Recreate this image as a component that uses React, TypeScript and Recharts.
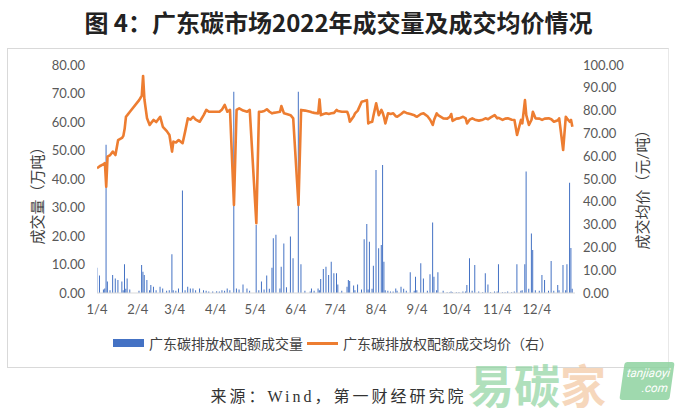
import React from "react";
import { ComposedChart, Bar, Line, XAxis, YAxis } from "recharts";

// trading dates (one line per month)
const dates: string[] = [
  "1/4","1/6","1/9","1/10","1/11","1/12","1/14","1/16","1/18","1/20","1/23","1/24","1/25","1/26","1/27","1/29",
  "2/5","2/7","2/8","2/9","2/11","2/13","2/14","2/16","2/18","2/21","2/23","2/26","2/28",
  "3/2","3/3","3/5","3/7","3/10","3/12","3/14","3/16","3/18","3/20","3/23","3/26","3/28","3/30",
  "4/2","4/5","4/7","4/9","4/11","4/13","4/15","4/18","4/20","4/22","4/25","4/28","4/30",
  "5/5","5/7","5/9","5/11","5/13","5/15","5/17","5/18","5/20","5/23","5/24","5/26","5/28","5/31",
  "6/2","6/6","6/8","6/11","6/15","6/16","6/18","6/21","6/22","6/23","6/25","6/27","6/29",
  "7/1","7/3","7/5","7/6","7/9","7/13","7/14","7/15","7/18","7/19","7/21","7/24","7/26","7/28","7/29","7/30",
  "8/1","8/2","8/4","8/6","8/8","8/9","8/10","8/11","8/13","8/15","8/17","8/19","8/20","8/23","8/25","8/27","8/30",
  "9/2","9/3","9/4","9/7","9/9","9/12","9/14","9/16","9/17","9/19","9/20","9/24","9/27","9/29","9/30",
  "10/1","10/4","10/6","10/9","10/11","10/12","10/14","10/16","10/18","10/21","10/24","10/26","10/28","10/30",
  "11/2","11/4","11/5","11/8","11/10","11/12","11/15","11/17","11/19","11/22","11/23","11/25","11/26","11/28","11/30",
  "12/1","12/3","12/6","12/8","12/10","12/13","12/15","12/17","12/20","12/21","12/24","12/26","12/27","12/29","12/30","12/31",
];

// 成交量（万吨）
const volumes: number[] = [
  8.9,6.1,1.2,1.6,52,4,1.0,6.3,5.1,4.6,4,1.0,10.1,1.5,5.1,1.2,
  0.8,9.8,7.5,6.3,4.6,1.0,2.8,2.2,1.0,2.2,1.6,0.8,1.0,
  13.6,1.0,0.8,1.6,36,1.0,2.2,1.6,1.6,1.0,1.6,1.0,0.8,0.5,
  0.5,0.6,0.5,1.0,0.8,1.6,1.0,70.6,1.6,1.2,3,1.6,0.8,
  23.9,1.0,4,1.2,6.1,1.5,8.9,19.2,20.4,1.6,9.2,17.4,2,19.8,
  12.2,70.6,10.1,0.8,0.5,1.6,0.8,1.6,1.0,4.9,8.4,9.2,6.3,
  11,6.9,6.9,3,0.8,2.2,4.6,4.2,2.6,1.0,3,1.2,18.9,24.2,1.2,18,
  1.5,9.6,43.2,15.7,16.8,44.9,11,1.0,0.8,0.5,0.5,1.6,0.8,2.2,1.5,0.8,7.3,
  0.8,5.7,1.0,10.4,5.1,0.8,6.6,24.7,5.7,1.0,7.3,0.8,0.3,0.3,0.5,
  0.3,0.3,0.3,0.5,0.5,2.8,12.2,0.8,9.8,0.5,0.3,6.9,3,0.3,
  0.5,0.5,10.1,0.3,0.3,0.5,0.3,0.5,10.1,0.8,1.0,10.1,42.6,1.5,20.9,
  15.1,1.0,0.8,6.3,4.6,0.8,11.2,0.8,2.8,1.0,9.8,1.0,10.1,38.7,15.8,1.5,
];

// 成交均价（元/吨）
const prices: number[] = [
  54.7,55.6,56.5,57.0,46.6,59.8,60.5,62,60.5,67,68,68.9,72,77.3,78,79.5,
  84.6,86.5,95.2,85,76.6,73.7,74.5,75.9,75,77.3,72.9,71,69.3,
  62,66.4,66,67.1,65.7,71,76.6,76,77.3,76,75.1,78,80.3,79.5,
  79.5,79.5,79.5,80.5,82.5,79.5,80.3,38.6,80.3,81,80,79.5,80.3,
  30.6,79.5,79.5,79.8,80.6,79.5,78.8,79,79.2,79.5,82,78.8,78.5,78,
  76.6,38.6,80.3,80,79.5,79.3,79,78.8,84.9,78,78.5,78.8,78.5,
  78.8,79,80.3,79.8,79.5,79.5,78,75.1,77.5,78.8,80,83.9,84.2,84.6,74.4,74.8,
  75.1,78,83.2,78,80.3,79,77,74.4,78.8,78.5,78.8,77.5,77.3,78.5,79.5,79,78.5,
  78,77.5,77.3,78.5,78.8,77.5,76,73.7,76,78.8,78,76.6,76.5,77.3,78.5,
  75.5,76.5,76.6,77.3,76.6,74.4,76,76.6,76,75.6,76,76.6,76.2,77,
  78,76.6,76.8,75.9,76.5,76.6,76,75.9,69.3,75.9,74.4,84.6,78,73.7,76,
  79.5,76.6,76.5,75.9,76.5,76.6,76.2,75.1,75.8,76.6,62.7,77.3,76.5,75.1,75.9,72.9,
];

const tickLabels: string[] = ["1/4","2/4","3/4","4/4","5/4","6/4","7/4","8/4","9/4","10/4","11/4","12/4"];
const leftTicks: number[] = [0,10,20,30,40,50,60,70,80];
const rightTicks: number[] = [0,10,20,30,40,50,60,70,80,90,100];

const monthStart = [0,31,59,90,120,151,181,212,243,273,304,334];
const dayOfYear = (s: string) => {
  const [m, d] = s.split("/").map(Number);
  return monthStart[m - 1] + d - 1;
};

const rows = dates.map((d, i) => ({
  day: dayOfYear(d),
  date: d,
  volume: volumes[i],
  price: prices[i],
}));
const tickDays = tickLabels.map(dayOfYear);
const labelByDay: Record<number, string> = {};
tickLabels.forEach((l) => (labelByDay[dayOfYear(l)] = l));

const FONT = "Lato, 'Noto Sans CJK SC', sans-serif";
const tickStyle = { fontSize: 13, fill: "#595959", fontFamily: FONT };

export default function App() {
  return (
    <div style={{ position: "absolute", left: 0, top: 0, width: 677, height: 415, background: "#fff", overflow: "hidden" }}>
      <div
        style={{
          position: "absolute", left: 0, top: 6, width: 677, textAlign: "center",
          fontFamily: "'Noto Sans CJK SC', sans-serif", fontWeight: 700, fontSize: 24, color: "#222", lineHeight: "32px",
        }}
      >
        图 4：广东碳市场2022年成交量及成交均价情况
      </div>
      <div
        style={{
          position: "absolute", left: 7, top: 48, width: 662, height: 320,
          border: "1px solid #d9d9d9", borderRightColor: "#e8e8e8", boxSizing: "border-box",
        }}
      />
      <div style={{ position: "absolute", left: 0, top: 0 }}>
        <ComposedChart
          width={677}
          height={415}
          data={rows}
          margin={{ top: 65, right: 0, bottom: 92, left: 0 }}
        >
          <XAxis
            dataKey="day"
            type="number"
            domain={[3, 366]}
            ticks={tickDays}
            tickFormatter={(v: number) => labelByDay[v] ?? ""}
            axisLine={{ stroke: "#d9d9d9" }}
            tickLine={false}
            tickSize={0}
            tickMargin={12}
            height={30}
            tick={tickStyle}
            interval={0}
            allowDataOverflow
          />
          <YAxis
            yAxisId="left"
            orientation="left"
            width={97}
            domain={[0, 80]}
            ticks={leftTicks}
            tickFormatter={(v: number) => v.toFixed(2)}
            axisLine={false}
            tickLine={false}
            tickSize={0}
            tickMargin={12}
            tick={tickStyle}
            interval={0}
          />
          <YAxis
            yAxisId="right"
            orientation="right"
            width={102}
            domain={[0, 100]}
            ticks={rightTicks}
            tickFormatter={(v: number) => v.toFixed(2)}
            axisLine={false}
            tickLine={false}
            tickSize={0}
            tickMargin={8}
            tick={tickStyle}
            interval={0}
          />
          <Bar yAxisId="left" dataKey="volume" fill="#4472C4" barSize={1} isAnimationActive={false} />
          <Line
            yAxisId="right"
            dataKey="price"
            type="linear"
            stroke="#ED7D31"
            strokeWidth={2.6}
            strokeLinejoin="round"
            dot={false}
            activeDot={false}
            isAnimationActive={false}
          />
          <text
            x={37}
            y={192}
            transform="rotate(-90 37 192)"
            textAnchor="middle"
            dominantBaseline="central"
            style={{ fontSize: 15, fill: "#404040", fontFamily: FONT }}
          >
            成交量（万吨）
          </text>
          <text
            x={642}
            y={186}
            transform="rotate(-90 642 186)"
            textAnchor="middle"
            dominantBaseline="central"
            style={{ fontSize: 15, fill: "#404040", fontFamily: FONT }}
          >
            成交均价（元/吨）
          </text>
        </ComposedChart>
      </div>
      {/* legend */}
      <div
        style={{
          position: "absolute", left: 113, top: 334, height: 18, display: "flex", alignItems: "center",
          fontFamily: "'Noto Sans CJK SC', sans-serif", fontSize: 14, color: "#404040", whiteSpace: "nowrap",
        }}
      >
        <span style={{ display: "inline-block", width: 31, height: 8, background: "#4472C4", marginRight: 5 }} />
        <span>广东碳排放权配额成交量</span>
        <span style={{ display: "inline-block", width: 31, height: 3, background: "#ED7D31", margin: "0 5px 0 4px" }} />
        <span>广东碳排放权配额成交均价（右）</span>
      </div>
      {/* source */}
      <div
        style={{
          position: "absolute", left: 0, top: 383, width: 677, textAlign: "center",
          fontFamily: "'Liberation Serif', 'Noto Sans CJK SC', serif", fontSize: 16, letterSpacing: 3, color: "#333",
        }}
      >
        来源：Wind，第一财经研究院
      </div>
      {/* watermark */}
      <div
        style={{
          position: "absolute", left: 468, top: 358, fontFamily: "'Noto Sans CJK SC', sans-serif",
          fontWeight: 700, fontSize: 46, lineHeight: "50px", whiteSpace: "nowrap", opacity: 0.7,
        }}
      >
        <span style={{ color: "#8fd3a0" }}>易</span>
        <span style={{ color: "#8fd3a0" }}>碳</span>
        <span style={{ color: "#f3c7a0" }}>家</span>
      </div>
      <div
        style={{
          position: "absolute", left: 622, top: 362, width: 50, height: 38, background: "#8fd3a0", opacity: 0.85,
          transform: "skewX(-8deg)", borderRadius: 3, color: "#fff", fontFamily: "Roboto, sans-serif",
          fontStyle: "italic", fontSize: 12, lineHeight: "15px", textAlign: "right", paddingRight: 3, boxSizing: "border-box",
          paddingTop: 4,
        }}
      >
        tanjiaoyi
        <br />
        .com
      </div>
    </div>
  );
}
